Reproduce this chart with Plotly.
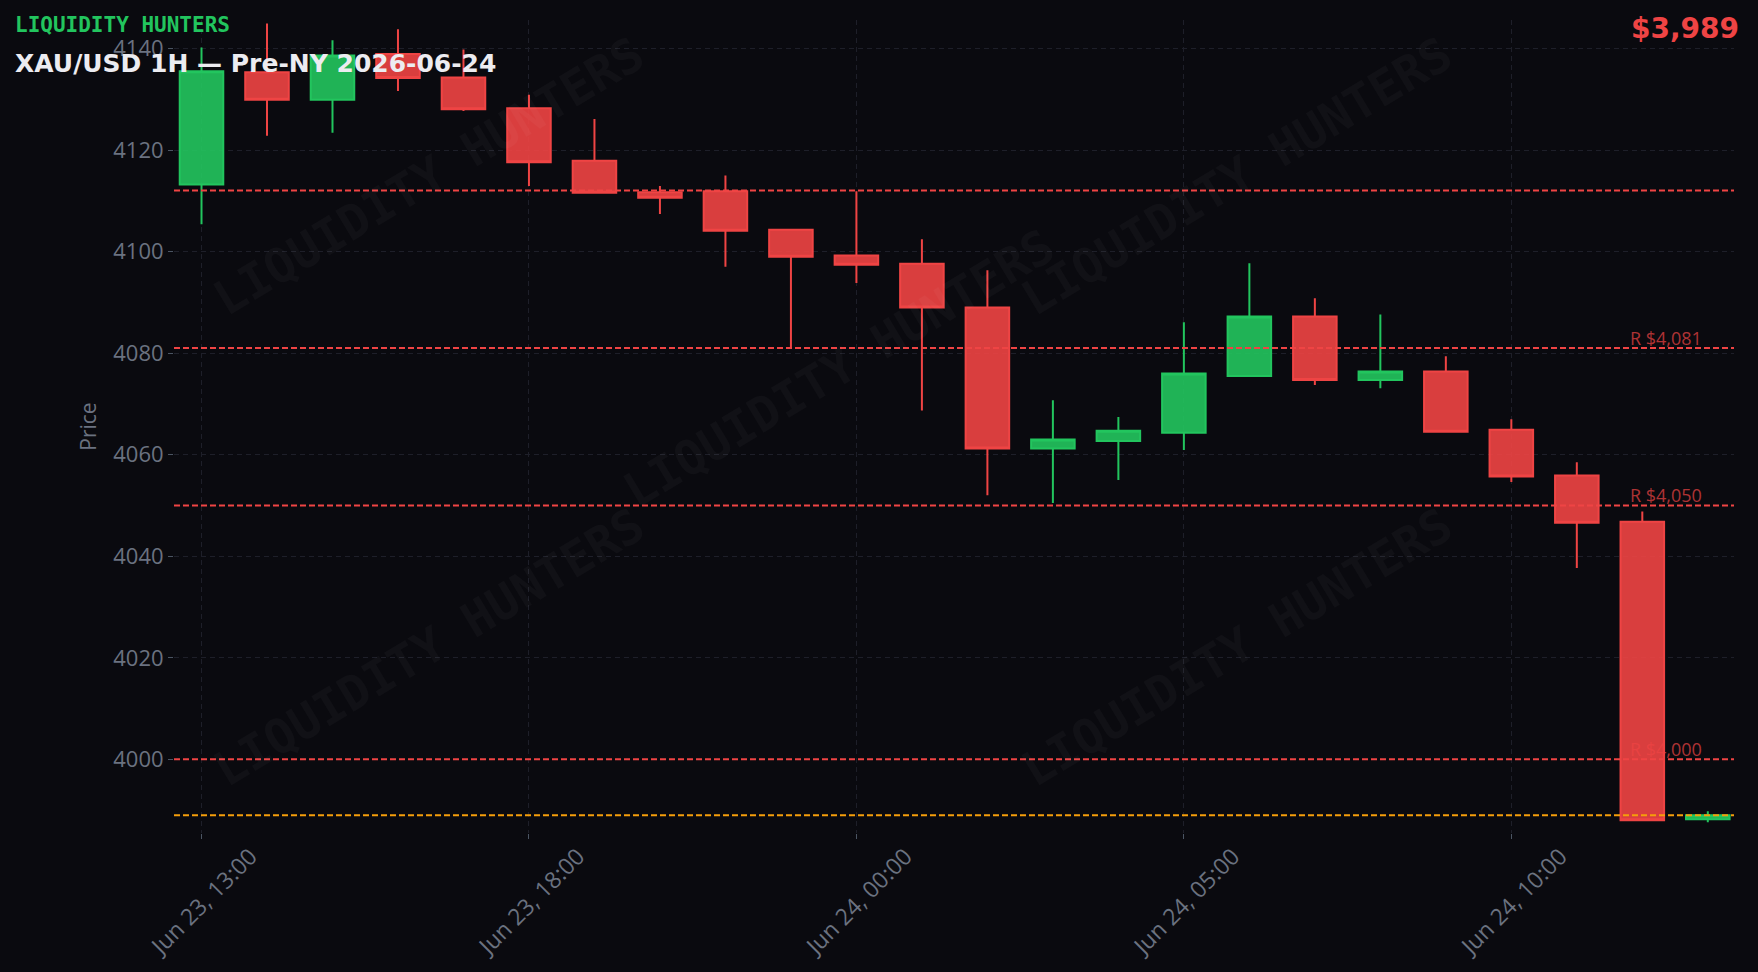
import pandas as pd
import plotly.graph_objects as go

# ---- data -------------------------------------------------------------
times = [
    "2026-06-23 13:00", "2026-06-23 14:00", "2026-06-23 15:00", "2026-06-23 16:00",
    "2026-06-23 17:00", "2026-06-23 18:00", "2026-06-23 19:00", "2026-06-23 20:00",
    "2026-06-23 22:00", "2026-06-23 23:00", "2026-06-24 00:00", "2026-06-24 01:00",
    "2026-06-24 02:00", "2026-06-24 03:00", "2026-06-24 04:00", "2026-06-24 05:00",
    "2026-06-24 06:00", "2026-06-24 07:00", "2026-06-24 08:00", "2026-06-24 09:00",
    "2026-06-24 10:00", "2026-06-24 11:00", "2026-06-24 12:00", "2026-06-24 13:00",
]
opens = [4113.2, 4135.3, 4129.9, 4138.9, 4134.3, 4128.2, 4117.9, 4111.7,
         4111.9, 4104.3, 4099.2, 4097.6, 4089.0, 4061.2, 4062.7, 4064.3,
         4075.5, 4087.2, 4074.7, 4076.4, 4064.9, 4055.9, 4046.8, 3988.2]
highs = [4140.2, 4144.9, 4141.6, 4143.8, 4139.8, 4130.9, 4126.1, 4112.9,
         4115.0, 4104.3, 4111.9, 4102.4, 4096.3, 4070.7, 4067.4, 4086.1,
         4097.7, 4090.8, 4087.6, 4079.4, 4067.0, 4058.5, 4048.8, 3989.8]
lows = [4105.4, 4122.8, 4123.4, 4131.6, 4127.7, 4112.9, 4111.5, 4107.4,
        4097.0, 4081.0, 4093.8, 4068.7, 4052.0, 4050.5, 4055.0, 4060.9,
        4075.5, 4073.7, 4073.1, 4064.3, 4054.6, 4037.7, 3988.0, 3987.6]
closes = [4135.5, 4129.9, 4138.6, 4134.2, 4128.0, 4117.6, 4111.6, 4110.6,
          4104.1, 4099.0, 4097.4, 4089.0, 4061.2, 4063.0, 4064.7, 4076.0,
          4087.2, 4074.7, 4076.4, 4064.5, 4055.7, 4046.6, 3988.0, 3989.0]

resistance_levels = [4081, 4050, 4000]
resistance_labels = ["R $4,081", "R $4,050", "R $4,000"]
session_line = 4112
current_price = 3989
price_text = "$3,989"

brand = "LIQUIDITY HUNTERS"
title_text = "XAU/USD 1H — Pre-NY 2026-06-24"
tick_every = 5

# ---- styling ------------------------------------------------------------
BG = "#0a0a0f"
GRID = "#1e1f29"
AXIS_TXT = "#6b7280"
GREEN = "#22c55e"
RED = "#ef4444"
ORANGE = "#f59e0b"

tickvals = times[::tick_every]
ticktext = [pd.Timestamp(t).strftime("%b %d, %H:%M") for t in tickvals]

fig = go.Figure(
    go.Candlestick(
        x=times, open=opens, high=highs, low=lows, close=closes,
        increasing=dict(line=dict(color=GREEN, width=2), fillcolor="rgba(34,197,94,0.9)"),
        decreasing=dict(line=dict(color=RED, width=2), fillcolor="rgba(239,68,68,0.9)"),
        showlegend=False,
    )
)

# horizontal levels
fig.add_shape(type="line", xref="paper", x0=0, x1=1, y0=session_line, y1=session_line,
              line=dict(color=RED, width=2, dash="6px,3px"))
for lvl, lab in zip(resistance_levels, resistance_labels):
    fig.add_shape(type="line", xref="paper", x0=0, x1=1, y0=lvl, y1=lvl,
                  line=dict(color=RED, width=2, dash="6px,3px"))
    fig.add_annotation(xref="paper", x=0.981, y=lvl, text=lab, showarrow=False,
                       xanchor="right", yanchor="bottom", yshift=-4,
                       font=dict(family="Open Sans", size=18, color="rgba(239,68,68,0.72)"))
fig.add_shape(type="line", xref="paper", x0=0, x1=1, y0=current_price, y1=current_price,
              line=dict(color=ORANGE, width=2, dash="6px,3px"))

# watermarks
wm_pos = [(0.163, 0.808), (0.426, 0.572), (0.681, 0.808), (0.163, 0.229), (0.681, 0.229)]
for wx, wy in wm_pos:
    fig.add_annotation(xref="paper", yref="paper", x=wx, y=wy, text=brand, showarrow=False,
                       textangle=-31, xanchor="center", yanchor="middle",
                       font=dict(family="DejaVu Sans Mono", size=48, weight="bold",
                                 color="rgba(255,255,255,0.032)"))

# header texts
fig.add_annotation(xref="paper", yref="paper", x=-0.1035, y=0.9935, text=brand, showarrow=False,
                   xanchor="left", yanchor="middle",
                   font=dict(family="DejaVu Sans Mono", size=21, weight="bold", color=GREEN))
fig.add_annotation(xref="paper", yref="paper", x=-0.1035, y=0.946, text=title_text, showarrow=False,
                   xanchor="left", yanchor="middle",
                   font=dict(family="DejaVu Sans", size=25, weight="bold", color="#ececf1"))
fig.add_annotation(xref="paper", yref="paper", x=1.0045, y=0.989, text=price_text, showarrow=False,
                   xanchor="right", yanchor="middle",
                   font=dict(family="DejaVu Sans", size=28, weight="bold", color=RED))

fig.update_layout(
    width=1758, height=972,
    paper_bgcolor=BG, plot_bgcolor=BG,
    margin=dict(l=174, r=24, t=20, b=139),
    font=dict(family="Open Sans", color=AXIS_TXT, size=21),
    boxgap=0.05,
    xaxis=dict(
        type="category", range=[-0.42, 23.4], rangeslider=dict(visible=False),
        tickmode="array", tickvals=tickvals, ticktext=ticktext, tickangle=-45,
        tickfont=dict(size=23, color=AXIS_TXT), ticklabelshift=49, ticklabelstandoff=-5,
        ticks="outside", ticklen=5, tickcolor="#4b5563",
        showgrid=True, gridcolor=GRID, griddash="5px,4px", gridwidth=1,
        zeroline=False, showline=False, automargin=False,
    ),
    yaxis=dict(
        range=[3985.5, 4145.6], dtick=20,
        title=dict(text="Price", font=dict(size=21, color=AXIS_TXT), standoff=10),
        tickfont=dict(size=22, color=AXIS_TXT),
        ticks="outside", ticklen=5, tickcolor="#4b5563",
        showgrid=True, gridcolor=GRID, griddash="5px,4px", gridwidth=1,
        zeroline=False, showline=False, automargin=False,
    ),
)

fig.write_html("out.html")
